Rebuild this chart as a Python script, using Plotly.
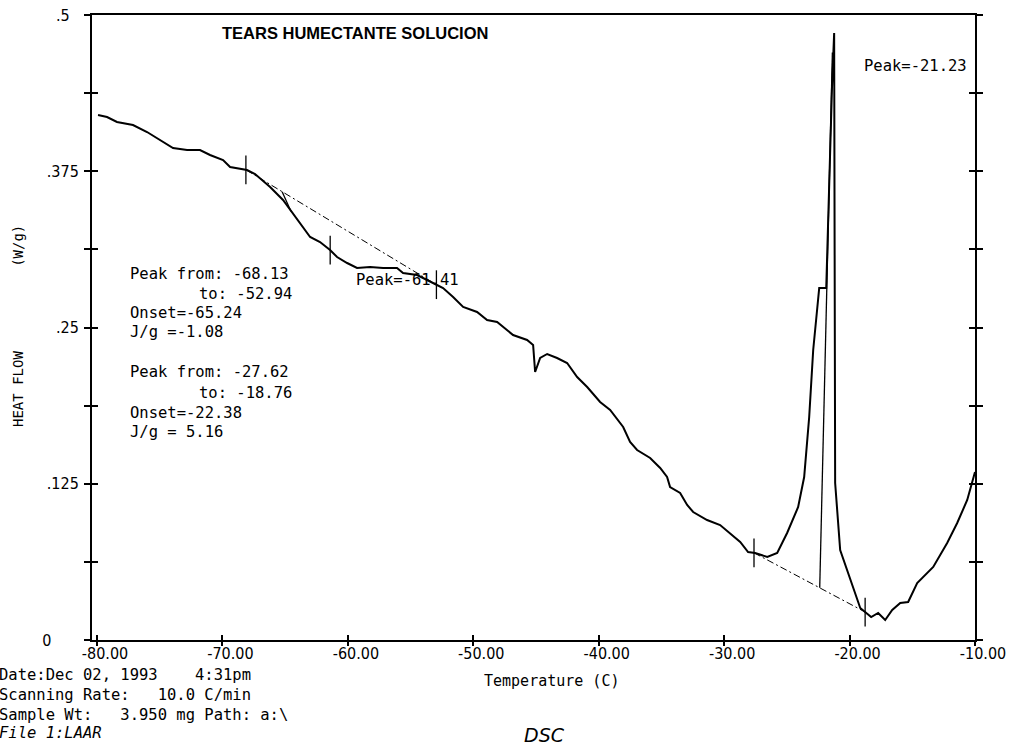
import numpy as np
import plotly.graph_objects as go

# ---- DSC scan: heat flow (W/g) versus temperature (C) ----
temp_c = [
    -79.92, -79.20, -78.41, -77.13, -76.01, -74.74, -73.94, -72.82, -71.79, -70.99,
    -69.95, -69.39, -68.04, -67.40, -66.20, -65.17, -64.21, -63.57, -63.01, -62.22,
    -61.42, -60.86, -60.06, -59.27, -58.23, -57.19, -56.08, -55.60, -54.48, -53.21,
    -52.41, -51.61, -50.81, -49.70, -48.90, -48.10, -47.30, -46.83, -45.71, -45.23,
    -45.07, -44.67, -44.11, -43.32, -42.52, -41.72, -40.92, -39.89, -39.09, -38.05,
    -37.50, -36.94, -35.90, -35.10, -34.55, -34.31, -33.51, -32.95, -32.47, -31.36,
    -30.32, -29.68, -28.72, -28.09, -27.53, -26.56, -25.77, -24.98, -24.10, -23.62,
    -23.22, -22.90, -22.42, -21.86, -21.79, -21.56, -21.40, -21.23, -21.15, -20.75,
    -19.87, -19.15, -18.28, -17.72, -17.16, -16.60, -15.96, -15.33, -14.61, -13.33,
    -12.22, -11.42, -10.62, -10.00,
]
heat_flow = [
    0.4200, 0.4184, 0.4144, 0.4120, 0.4064, 0.3984, 0.3936, 0.3920, 0.3920, 0.3880,
    0.3840, 0.3784, 0.3760, 0.3728, 0.3624, 0.3520, 0.3384, 0.3296, 0.3224, 0.3184,
    0.3120, 0.3064, 0.3016, 0.2976, 0.2984, 0.2976, 0.2976, 0.2936, 0.2920, 0.2856,
    0.2816, 0.2744, 0.2664, 0.2624, 0.2560, 0.2544, 0.2480, 0.2440, 0.2400, 0.2360,
    0.2144, 0.2256, 0.2288, 0.2256, 0.2216, 0.2104, 0.2024, 0.1904, 0.1840, 0.1704,
    0.1584, 0.1520, 0.1456, 0.1376, 0.1304, 0.1224, 0.1176, 0.1080, 0.1024, 0.0960,
    0.0920, 0.0864, 0.0784, 0.0704, 0.0696, 0.0664, 0.0696, 0.0856, 0.1064, 0.1304,
    0.1784, 0.2320, 0.2816, 0.2816, 0.3096, 0.3896, 0.4424, 0.4856, 0.1256, 0.0720,
    0.0456, 0.0256, 0.0184, 0.0216, 0.0160, 0.0240, 0.0296, 0.0304, 0.0456, 0.0584,
    0.0776, 0.0936, 0.1120, 0.1344,
]

# axis ticks
x_ticks = [-80, -70, -60, -50, -40, -30, -20, -10]
x_tick_text = ["-80.00", "-70.00", "-60.00", "-50.00", "-40.00", "-30.00", "-20.00", "-10.00"]
y_ticks = [0, 0.0625, 0.125, 0.1875, 0.25, 0.3125, 0.375, 0.4375, 0.5]
y_tick_text = ["0" + "\u00a0" * 6, "", ".125", "", ".25", "", ".375", "", ".5\u00a0\u00a0"]

# peak analysis results
peak1_from, peak1_to, peak1_onset, peak1_max, peak1_jg = -68.13, -52.94, -65.24, -61.41, -1.08
peak2_from, peak2_to, peak2_onset, peak2_max, peak2_jg = -27.62, -18.76, -22.38, -21.23, 5.16

info_lines = [
    "Date:Dec 02, 1993    4:31pm",
    "Scanning Rate:   10.0 C/min",
    "Sample Wt:   3.950 mg Path: a:\\",
]
file_line = "File 1:LAAR"
title_text = "TEARS HUMECTANTE SOLUCION"

T = np.array(temp_c)
Q = np.array(heat_flow)


def on_curve(t):
    return float(np.interp(t, T, Q))


def baseline(t0, t1):
    return [t0, t1], [on_curve(t0), on_curve(t1)]


# ---- page geometry (pixels) ----
W, H = 1009, 748
L, R, TOP, BOT = 92, 975, 15, 640
PW, PH = R - L, BOT - TOP


def paper(xp, yp):
    return (xp - L) / PW, (BOT - yp) / PH


MONO = "DejaVu Sans Mono"
NARROW = "DejaVu Sans Condensed, Liberation Sans Narrow, Arial Narrow, Liberation Sans, sans-serif"

fig = go.Figure()

# main trace
fig.add_trace(go.Scatter(x=temp_c, y=heat_flow, mode="lines",
                         line=dict(color="black", width=2), hoverinfo="skip"))

# integration baselines
for a, b in [(peak1_from, peak1_to), (peak2_from, peak2_to)]:
    bx, by = baseline(a, b)
    fig.add_trace(go.Scatter(x=bx, y=by, mode="lines",
                             line=dict(color="black", width=1, dash="7px,3px,2px,3px")))


def base_at(t, a, b):
    bx, by = baseline(a, b)
    return float(np.interp(t, bx, by))


# onset tangents
o1 = base_at(peak1_onset, peak1_from, peak1_to)
t1_end = peak1_onset + 0.7
fig.add_trace(go.Scatter(x=[peak1_onset, t1_end], y=[o1, on_curve(t1_end)], mode="lines",
                         line=dict(color="black", width=1.3)))

o2 = base_at(peak2_onset, peak2_from, peak2_to)
flank_t = -21.56
slope = (on_curve(flank_t) - o2) / (flank_t - peak2_onset)
top_v = 0.47
fig.add_trace(go.Scatter(x=[peak2_onset, peak2_onset + (top_v - o2) / slope], y=[o2, top_v],
                         mode="lines", line=dict(color="black", width=1.3)))

# limit / peak markers
for t in [peak1_from, peak1_max, peak1_to, peak2_from, peak2_to]:
    v = on_curve(t)
    fig.add_trace(go.Scatter(x=[t, t], y=[v - 0.0115, v + 0.0115], mode="lines",
                             line=dict(color="black", width=1.3)))

# empty trace to carry the overlay axes (inner half of the crossing ticks)
fig.add_trace(go.Scatter(x=[], y=[], xaxis="x2", yaxis="y2", showlegend=False))

x_range = [-80.4, -10.0]
y_range = [0, 0.5]

fig.update_layout(
    template="none",
    width=W, height=H,
    margin=dict(l=L, r=W - R, t=TOP, b=H - BOT, autoexpand=False),
    paper_bgcolor="white", plot_bgcolor="white",
    showlegend=False,
    xaxis=dict(range=x_range, tickvals=x_ticks, ticktext=x_tick_text, automargin=False,
               ticks="outside", ticklen=4, tickwidth=2, tickcolor="black",
               showline=True, linewidth=2, linecolor="black", mirror=True,
               showgrid=False, zeroline=False, ticklabelshift=8, ticklabelstandoff=-6,
               tickfont=dict(family=NARROW, size=16, color="black")),
    yaxis=dict(range=y_range, tickvals=y_ticks, ticktext=y_tick_text, automargin=False,
               ticks="outside", ticklen=6, tickwidth=2, tickcolor="black",
               showline=True, linewidth=2, linecolor="black", mirror="allticks",
               showgrid=False, zeroline=False, ticklabelstandoff=2,
               tickfont=dict(family=NARROW, size=16, color="black")),
    xaxis2=dict(range=x_range, overlaying="x", anchor="y2", tickvals=x_ticks, automargin=False,
                ticks="inside", ticklen=5, tickwidth=2, tickcolor="black",
                showticklabels=False, showline=False, showgrid=False, zeroline=False),
    yaxis2=dict(range=y_range, overlaying="y", anchor="x2", tickvals=y_ticks, automargin=False,
                ticks="inside", ticklen=6, tickwidth=2, tickcolor="black", mirror="allticks",
                showticklabels=False, showline=False, showgrid=False, zeroline=False),
)

anns = []


def text_at(xp, yp, s, size=15.5, family=MONO, style="normal", weight="normal",
            xanchor="left", angle=0):
    px_, py_ = paper(xp, yp)
    anns.append(dict(x=px_, y=py_, xref="paper", yref="paper", text=s, showarrow=False,
                     xanchor=xanchor, yanchor="middle", textangle=angle,
                     font=dict(family=family, size=size, color="black",
                               style=style, weight=weight)))


text_at(220, 33, title_text, size=16.5, family="Liberation Sans", weight="bold")
text_at(862, 66, f"Peak={peak2_max:.2f}")
text_at(354, 280, f"Peak={peak1_max:.2f}")

block = [
    (128, 274, f"Peak from: {peak1_from:.2f}"),
    (197, 294, f"to: {peak1_to:.2f}"),
    (128, 313, f"Onset={peak1_onset:.2f}"),
    (128, 332, f"J/g ={peak1_jg:.2f}"),
    (128, 372, f"Peak from: {peak2_from:.2f}"),
    (197, 393, f"to: {peak2_to:.2f}"),
    (128, 413, f"Onset={peak2_onset:.2f}"),
    (128, 432, f"J/g = {peak2_jg:.2f}"),
]
for xp, yp, s in block:
    text_at(xp, yp, s)

for i, s in enumerate(info_lines):
    text_at(-3, 675 + 20 * i, s.replace(" ", "\u00a0"))
text_at(-3, 733, file_line, style="italic")

text_at(482, 681, "Temperature\u00a0(C)", size=15)
text_at(18, 326, "HEAT\u00a0FLOW" + "\u00a0" * 10 + "(W/g)", size=14,
        xanchor="center", angle=-90)
text_at(522, 735, "DSC", size=19, family="DejaVu Sans", style="italic")

fig.update_layout(annotations=anns)

fig.write_html("out.html")
